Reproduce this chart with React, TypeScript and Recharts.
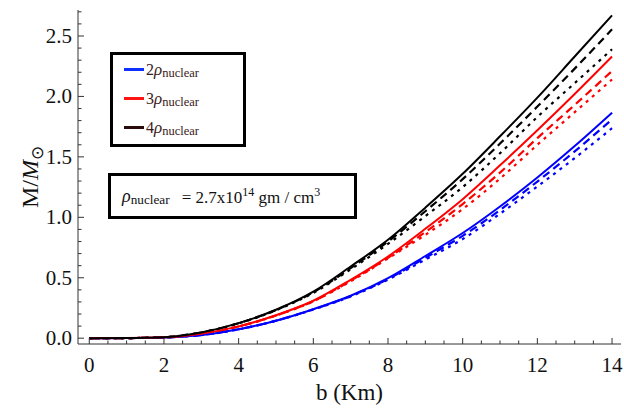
import React from "react";
import { LineChart, Line, XAxis, YAxis, Legend } from "recharts";

// radius b in km
const bValues = [0, 1, 2, 3, 4, 5, 6, 7, 8, 9, 10, 11, 12, 13, 14];

// M / M_sun (solid, dashed, dotted for each density)
const mass2Solid = [0, 0.001, 0.006, 0.026, 0.074, 0.145, 0.24, 0.351, 0.497, 0.68, 0.87, 1.09, 1.33, 1.59, 1.866];
const mass2Dashed = [0, 0.001, 0.006, 0.026, 0.074, 0.145, 0.239, 0.348, 0.49, 0.665, 0.847, 1.06, 1.296, 1.545, 1.81];
const mass2Dotted = [0, 0.001, 0.006, 0.026, 0.073, 0.144, 0.237, 0.345, 0.485, 0.65, 0.82, 1.03, 1.255, 1.49, 1.737];

const mass3Solid = [0, 0.001, 0.007, 0.037, 0.098, 0.19, 0.31, 0.483, 0.676, 0.905, 1.15, 1.43, 1.72, 2.02, 2.33];
const mass3Dashed = [0, 0.001, 0.007, 0.037, 0.097, 0.188, 0.307, 0.475, 0.665, 0.878, 1.11, 1.37, 1.655, 1.93, 2.21];
const mass3Dotted = [0, 0.001, 0.007, 0.037, 0.097, 0.187, 0.305, 0.47, 0.66, 0.855, 1.068, 1.32, 1.6, 1.87, 2.14];

const mass4Solid = [0, 0.001, 0.008, 0.048, 0.125, 0.235, 0.385, 0.593, 0.814, 1.08, 1.36, 1.67, 1.99, 2.33, 2.67];
const mass4Dashed = [0, 0.001, 0.008, 0.048, 0.124, 0.233, 0.38, 0.58, 0.8, 1.05, 1.316, 1.61, 1.916, 2.23, 2.555];
const mass4Dotted = [0, 0.001, 0.008, 0.047, 0.123, 0.231, 0.375, 0.57, 0.78, 1.01, 1.25, 1.53, 1.83, 2.11, 2.39];

const xTicks = [0, 0.5, 1, 1.5, 2, 2.5, 3, 3.5, 4, 4.5, 5, 5.5, 6, 6.5, 7, 7.5, 8, 8.5, 9, 9.5, 10, 10.5, 11, 11.5, 12, 12.5, 13, 13.5, 14];
const xLabels = [0, 2, 4, 6, 8, 10, 12, 14];
const yTicks = [0, 0.1, 0.2, 0.3, 0.4, 0.5, 0.6, 0.7, 0.8, 0.9, 1, 1.1, 1.2, 1.3, 1.4, 1.5, 1.6, 1.7, 1.8, 1.9, 2, 2.1, 2.2, 2.3, 2.4, 2.5, 2.6, 2.7];
const yLabels = [0, 0.5, 1, 1.5, 2, 2.5];

const legendNames = ["2", "3", "4"];
const legendColors = ["#1030ff", "#ff1414", "#2a0a0a"];

const data = bValues.map((b, i) => ({
  b,
  s2: mass2Solid[i], d2: mass2Dashed[i], p2: mass2Dotted[i],
  s3: mass3Solid[i], d3: mass3Dashed[i], p3: mass3Dotted[i],
  s4: mass4Solid[i], d4: mass4Dashed[i], p4: mass4Dotted[i],
}));

const serif = "'Liberation Serif', 'Times New Roman', serif";
const frame = "#333";
const dotted = "3 5";
const dashed = "8 5";

const isLabel = (list: number[], v: number) => list.some((t) => Math.abs(t - v) < 1e-6);

function BottomTick({ x, y, payload }: any) {
  const major = isLabel(xLabels, payload.value);
  return (
    <g>
      <line x1={x} x2={x} y1={y} y2={y - (major ? 6 : 3.5)} stroke={frame} />
      {major && (
        <text x={x} y={y + 28} textAnchor="middle" fontSize={21} fontFamily={serif} fill="#111">
          {payload.value}
        </text>
      )}
    </g>
  );
}

function TopTick({ x, y, payload }: any) {
  const major = isLabel(xLabels, payload.value);
  return <line x1={x} x2={x} y1={y} y2={y + (major ? 6 : 3.5)} stroke={frame} />;
}

function LeftTick({ x, y, payload }: any) {
  const major = isLabel(yLabels, payload.value);
  return (
    <g>
      <line x1={x} x2={x + (major ? 6 : 3.5)} y1={y} y2={y} stroke={frame} />
      {major && (
        <text x={x - 6} y={y + 7} textAnchor="end" fontSize={21} fontFamily={serif} fill="#111">
          {payload.value.toFixed(1)}
        </text>
      )}
    </g>
  );
}

function RightTick({ x, y, payload }: any) {
  const major = isLabel(yLabels, payload.value);
  return <line x1={x} x2={x - (major ? 6 : 3.5)} y1={y} y2={y} stroke={frame} />;
}

function MassLabel({ viewBox }: any) {
  const cy = viewBox.y + viewBox.height / 2;
  const x = 38;
  return (
    <text x={x} y={cy} transform={`rotate(-90, ${x}, ${cy})`} textAnchor="middle" fontSize={24} fontFamily={serif} fill="#111">
      M/<tspan fontStyle="italic">M</tspan>
      <tspan fontSize={17} dy={5}>⊙</tspan>
    </text>
  );
}

function RadiusLabel({ viewBox }: any) {
  return (
    <text x={viewBox.x + viewBox.width / 2} y={viewBox.y + 56} textAnchor="middle" fontSize={23} fontFamily={serif} fill="#111">
      b (Km)
    </text>
  );
}

function Rho({ size }: { size: number }) {
  return (
    <span>
      <i style={{ fontSize: size + 1 }}>ρ</i>
      <span style={{ fontSize: size * 0.78, position: "relative", top: 2 }}>nuclear</span>
    </span>
  );
}

function DensityLegend({ payload }: any) {
  const entries = (payload || []).filter((e: any) => e.type !== "none" && legendNames.includes(String(e.value)));
  return (
    <div
      style={{
        boxSizing: "border-box", width: 136, height: 95, border: "3px solid #000",
        background: "#fff", padding: "0 0 0 11px", fontFamily: serif, color: "#3a1a1a",
      }}
    >
      {entries.map((entry: any, i: number) => (
        <div key={i} style={{ display: "flex", alignItems: "center", height: 29, fontSize: 16 }}>
          <span style={{ display: "inline-block", width: 20, height: 3, background: legendColors[i], marginRight: 2 }} />
          <span>{entry.value}</span>
          <Rho size={16} />
        </div>
      ))}
    </div>
  );
}

export default function App() {
  return (
    <div style={{ position: "relative", width: 624, height: 416, background: "#fff" }}>
      <style>{"body{margin:0}"}</style>
      <LineChart width={624} height={416} data={data} margin={{ top: 10, right: 3, left: 0, bottom: 0 }}>
        <XAxis
          dataKey="b" type="number" domain={[-0.302, 14.24]} allowDataOverflow
          ticks={xTicks} interval={0} tickSize={0} tickMargin={0} tickLine={false}
          height={72} stroke={frame} tick={<BottomTick />} label={<RadiusLabel />}
        />
        <XAxis
          xAxisId="top" orientation="top" dataKey="b" type="number" domain={[-0.302, 14.24]} allowDataOverflow
          ticks={xTicks} interval={0} tickSize={0} tickMargin={0} tickLine={false}
          height={0} stroke={frame} tick={<TopTick />}
        />
        <YAxis
          type="number" domain={[-0.048, 2.715]} allowDataOverflow
          ticks={yTicks} interval={0} tickSize={0} tickMargin={0} tickLine={false}
          width={78} stroke={frame} tick={<LeftTick />} label={<MassLabel />}
        />
        <YAxis
          yAxisId="right" orientation="right" type="number" domain={[-0.048, 2.715]} allowDataOverflow
          ticks={yTicks} interval={0} tickSize={0} tickMargin={0} tickLine={false}
          width={0} stroke={frame} tick={<RightTick />}
        />
        <Legend
          layout="vertical" align="center" verticalAlign="middle"
          content={<DensityLegend />}
          wrapperStyle={{ left: 110, top: 52, width: 136, height: 95 }}
        />
        <Line dataKey="p2" type="monotone" stroke="#0000ff" strokeWidth={2.2} strokeDasharray={dotted} dot={false} legendType="none" isAnimationActive={false} />
        <Line dataKey="d2" type="monotone" stroke="#0000ff" strokeWidth={2.2} strokeDasharray={dashed} dot={false} legendType="none" isAnimationActive={false} />
        <Line dataKey="p3" type="monotone" stroke="#ff0000" strokeWidth={2.2} strokeDasharray={dotted} dot={false} legendType="none" isAnimationActive={false} />
        <Line dataKey="d3" type="monotone" stroke="#ff0000" strokeWidth={2.2} strokeDasharray={dashed} dot={false} legendType="none" isAnimationActive={false} />
        <Line dataKey="p4" type="monotone" stroke="#000000" strokeWidth={2.2} strokeDasharray={dotted} dot={false} legendType="none" isAnimationActive={false} />
        <Line dataKey="d4" type="monotone" stroke="#000000" strokeWidth={2.2} strokeDasharray={dashed} dot={false} legendType="none" isAnimationActive={false} />
        <Line dataKey="s2" name="2" type="monotone" stroke="#0000ff" strokeWidth={2} dot={false} isAnimationActive={false} />
        <Line dataKey="s3" name="3" type="monotone" stroke="#ff0000" strokeWidth={2} dot={false} isAnimationActive={false} />
        <Line dataKey="s4" name="4" type="monotone" stroke="#000000" strokeWidth={2} dot={false} isAnimationActive={false} />
      </LineChart>
      <div
        style={{
          position: "absolute", left: 108, top: 173, width: 249, height: 46, boxSizing: "border-box",
          border: "3px solid #000", background: "#fff", fontFamily: serif, fontSize: 17, color: "#111",
          display: "flex", alignItems: "center", paddingLeft: 11, whiteSpace: "nowrap",
        }}
      >
        <Rho size={17} />
        <span style={{ marginLeft: 12 }}>
          = 2.7x10<sup style={{ fontSize: 12 }}>14</sup> gm / cm<sup style={{ fontSize: 12 }}>3</sup>
        </span>
      </div>
    </div>
  );
}
